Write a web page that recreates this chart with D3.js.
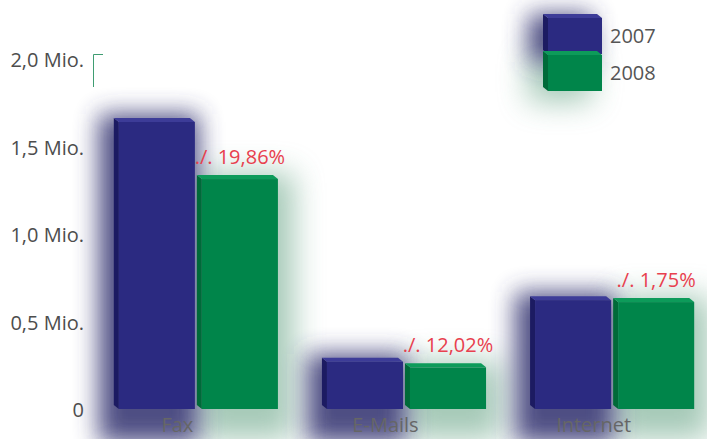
<!DOCTYPE html>
<html>
<head>
<meta charset="utf-8">
<script src="https://cdn.jsdelivr.net/npm/d3@7"></script>
<style>
  html, body { margin: 0; padding: 0; background: #fff; }
  svg { display: block; }
  text { font-family: "Open Sans", "Noto Sans", sans-serif; }
</style>
</head>
<body>
<svg id="chart" width="707" height="439"></svg>
<script>
// Volumes in millions, per channel and year
const categories = ["Fax", "E-Mails", "Internet"];
const series = ["2007", "2008"];
const values2007 = [1.64, 0.27, 0.622];
const values2008 = [1.314, 0.238, 0.611];
const changeLabels = ["./. 19,86%", "./. 12,02%", "./. 1,75%"];
const yTicks = [0, 0.5, 1.0, 1.5, 2.0];
const yTickLabels = ["0", "0,5 Mio.", "1,0 Mio.", "1,5 Mio.", "2,0 Mio."];

const W = 707, H = 439;
const svg = d3.select("#chart");

const palette = {
  "2007": { front: "#2b2a81", side: "#1c1b62", top: "#3d3c98", glow: "#3b3a76", glowOpacity: 0.9, blur: 12 },
  "2008": { front: "#00854a", side: "#006a39", top: "#0d9b5a", glow: "#6aa688", glowOpacity: 0.6, blur: 15 }
};
const depth = { dx: -5, dy: -4 };

const x = d3.scaleBand().domain(categories).range([98, 715]).paddingInner(0.2356).paddingOuter(0.1);
const xs = d3.scaleBand().domain(series).range([0, x.bandwidth()]).paddingInner(0.084);
const y = d3.scaleLinear().domain([0, 2]).range([409, 59]);

const rows = categories.map((c, i) => ({
  cat: c,
  label: changeLabels[i],
  bars: [
    { s: "2007", v: values2007[i] },
    { s: "2008", v: values2008[i] }
  ]
}));

// Blur filters for the soft halos behind bars
const defs = svg.append("defs");
series.forEach(s => {
  defs.append("filter").attr("id", "halo" + s)
    .attr("filterUnits", "userSpaceOnUse")
    .attr("x", 0).attr("y", 0).attr("width", W).attr("height", H)
    .append("feGaussianBlur").attr("stdDeviation", palette[s].blur);
});

// Green bracket at the top of the value axis
svg.append("path")
  .attr("d", "M103,54.5H93.5V87")
  .attr("fill", "none").attr("stroke", "#3f9d72").attr("stroke-width", 1);

// Halos: green first, purple on top
const haloLayers = {};
["2008", "2007"].forEach(s => {
  haloLayers[s] = svg.append("g").attr("filter", `url(#halo${s})`).attr("opacity", palette[s].glowOpacity);
});
rows.forEach(r => {
  r.bars.forEach(b => {
    const bx = x(r.cat) + xs(b.s);
    const grow = b.s === "2007" ? { l: 20, r: 4, t: 8, b: 34 } : { l: 4, r: 16, t: 6, b: 30 };
    haloLayers[b.s].append("rect")
      .attr("x", bx - grow.l).attr("y", y(b.v) - grow.t)
      .attr("width", xs.bandwidth() + grow.l + grow.r)
      .attr("height", y(0) - y(b.v) + grow.t + grow.b)
      .attr("fill", palette[b.s].glow);
  });
});
// Legend halo
series.forEach((s, i) => {
  haloLayers[s].append("rect")
    .attr("x", 528).attr("y", 14 + i * 40)
    .attr("width", 64).attr("height", 48)
    .attr("fill", palette[s].glow);
});

// Value axis labels
svg.append("g").selectAll("text").data(yTicks).join("text")
  .attr("x", 84).attr("y", d => y(d) + 1)
  .attr("dy", "0.35em")
  .attr("text-anchor", "end")
  .attr("font-size", 20)
  .attr("fill", "#4d4d4d")
  .text((d, i) => yTickLabels[i]);

// 3D bar: left side face, top face, front face
function drawBar(g, bx, top, bottom, w, col) {
  g.append("polygon")
    .attr("points", [[bx, top], [bx + depth.dx, top + depth.dy], [bx + depth.dx, bottom + depth.dy], [bx, bottom]].join(" "))
    .attr("fill", col.side);
  g.append("polygon")
    .attr("points", [[bx, top], [bx + depth.dx, top + depth.dy], [bx + w + depth.dx, top + depth.dy], [bx + w, top]].join(" "))
    .attr("fill", col.top);
  g.append("rect")
    .attr("x", bx).attr("y", top).attr("width", w).attr("height", bottom - top)
    .attr("fill", col.front);
}

const barsG = svg.append("g");
rows.forEach(r => {
  r.bars.forEach(b => {
    const bx = x(r.cat) + xs(b.s);
    drawBar(barsG, bx, y(b.v), y(0), xs.bandwidth(), palette[b.s]);
  });
});

// Change labels above the 2008 bars
svg.append("g").selectAll("text").data(rows).join("text")
  .attr("x", d => x(d.cat) + xs("2008") + xs.bandwidth() / 2)
  .attr("y", d => y(d.bars[1].v) - 15)
  .attr("text-anchor", "middle")
  .attr("font-size", 20)
  .attr("fill", "#e8404e")
  .text(d => d.label);

// Category labels
svg.append("g").selectAll("text").data(categories).join("text")
  .attr("x", d => x(d) + x.bandwidth() * 0.368)
  .attr("y", 432)
  .attr("text-anchor", "middle")
  .attr("font-size", 20)
  .attr("fill", "#666")
  .text(d => d);

// Legend
const lg = svg.append("g");
series.forEach((s, i) => {
  const top = 18 + i * 37, bottom = top + 36;
  drawBar(lg, 548, top, bottom, 54, palette[s]);
  lg.append("text")
    .attr("x", 610).attr("y", top + 18)
    .attr("dy", "0.35em")
    .attr("font-size", 20)
    .attr("fill", "#555")
    .text(s);
});
</script>
</body>
</html>
